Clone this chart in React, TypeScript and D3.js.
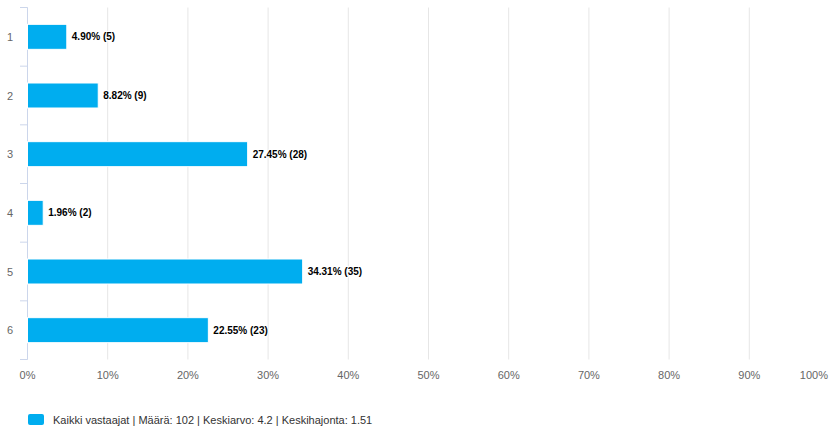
import React from "react";
import * as d3 from "d3";

const categories = ["1", "2", "3", "4", "5", "6"];
const percents = [4.9, 8.82, 27.45, 1.96, 34.31, 22.55];
const counts = [5, 9, 28, 2, 35, 23];
const xTicks = [0, 10, 20, 30, 40, 50, 60, 70, 80, 90, 100];
const legendLabel = "Kaikki vastaajat | Määrä: 102 | Keskiarvo: 4.2 | Keskihajonta: 1.51";

const W = 829;
const H = 430;
const FONT = "'Liberation Sans', Arial, sans-serif";

export default function App() {
  const x = d3.scaleLinear().domain([0, 100]).range([27.5, 829.5]);
  const y = d3.scaleBand().domain(categories).range([7.5, 359.5]).paddingInner(0).paddingOuter(0);
  const bw = y.bandwidth();
  const barH = 25;
  return (
    <svg width={W} height={H} style={{ position: "absolute", left: 0, top: 0 }} fontFamily={FONT}>
      <rect width={W} height={H} fill="#fff" />
      {xTicks.map((t) => (
        <line key={"g" + t} x1={x(t)} x2={x(t)} y1={7.5} y2={359.5} stroke="#e6e6e6" strokeWidth={1} />
      ))}
      <line x1={27.5} x2={27.5} y1={7.5} y2={359.5} stroke="#ccd6eb" strokeWidth={1} />
      {d3.range(categories.length + 1).map((i) => {
        const yy = 7.5 + i * bw;
        return <line key={"t" + i} x1={20} x2={27.5} y1={yy} y2={yy} stroke="#ccd6eb" strokeWidth={1} />;
      })}
      {categories.map((c, i) => {
        const cy = (y(c) as number) + bw / 2;
        return (
          <g key={c}>
            <text x={10} y={cy + 4} textAnchor="middle" fontSize={11} fill="#666">{c}</text>
            <rect x={27.5} y={cy - barH / 2} width={x(percents[i]) - x(0)} height={barH} fill="#00adef" stroke="#ffffff" strokeWidth={1} />
            <text x={x(percents[i]) + 5} y={cy + 3.5} fontSize={10} fontWeight="bold" fill="#000" stroke="#fff" strokeWidth={2} paintOrder="stroke" strokeLinejoin="round">
              {percents[i].toFixed(2) + "% (" + counts[i] + ")"}
            </text>
          </g>
        );
      })}
      {xTicks.map((t, i) => {
        const last = i === xTicks.length - 1;
        return (
          <text key={"x" + t} x={last ? 828 : x(t)} y={379} textAnchor={last ? "end" : "middle"} fontSize={11} fill="#666">{t + "%"}</text>
        );
      })}
      <rect x={28} y={414} width={16} height={11} rx={2} fill="#00adef" />
      <text x={53} y={424} fontSize={11} fill="#333">{legendLabel}</text>
    </svg>
  );
}
